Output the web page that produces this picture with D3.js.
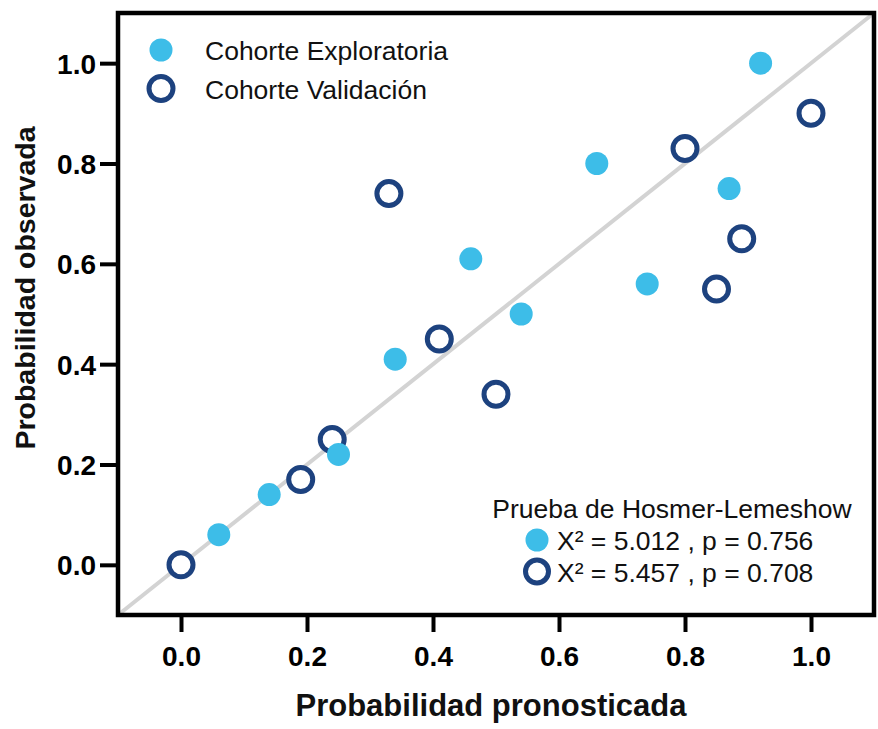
<!DOCTYPE html>
<html>
<head>
<meta charset="utf-8">
<script src="https://cdn.jsdelivr.net/npm/d3@7/dist/d3.min.js"></script>
<style>
  html, body { margin: 0; padding: 0; background: #ffffff; }
  svg { display: block; font-family: "Liberation Sans", Arial, Helvetica, sans-serif; }
</style>
</head>
<body>
<svg id="chart" width="878" height="729"></svg>
<script>
// Calibration data: predicted vs observed probability per decile group
const exploraPred = [0.06, 0.14, 0.25, 0.34, 0.46, 0.54, 0.66, 0.74, 0.87, 0.92];
const exploraObs  = [0.06, 0.14, 0.22, 0.41, 0.61, 0.50, 0.80, 0.56, 0.75, 1.00];
const validPred   = [0.00, 0.19, 0.24, 0.33, 0.41, 0.50, 0.80, 0.85, 0.89, 1.00];
const validObs    = [0.00, 0.17, 0.25, 0.74, 0.45, 0.34, 0.83, 0.55, 0.65, 0.90];

const tickValues = [0.0, 0.2, 0.4, 0.6, 0.8, 1.0];
const seriesNames = ["Cohorte Exploratoria", "Cohorte Validación"];
const hlTitle = "Prueba de Hosmer-Lemeshow";
const hlStats = ["X² = 5.012 , p = 0.756", "X² = 5.457 , p = 0.708"];

const colFill = "#3dbde8";
const colNavy = "#1d427f";

const svg = d3.select("#chart");
const plotL = 118, plotR = 874, plotT = 13, plotB = 615;

const x = d3.scaleLinear().domain([-0.1, 1.1]).range([plotL, plotR]);
const y = d3.scaleLinear().domain([-0.1, 1.1]).range([plotB, plotT]);

// Identity reference line
svg.append("line")
  .attr("x1", x(-0.1)).attr("y1", y(-0.1))
  .attr("x2", x(1.1)).attr("y2", y(1.1))
  .attr("stroke", "#d3d3d3").attr("stroke-width", 4);

// Axes
const xAxis = svg.append("g")
  .attr("transform", `translate(0,${plotB})`)
  .call(d3.axisBottom(x).tickValues(tickValues).tickFormat(d3.format(".1f")).tickSize(17).tickPadding(14));
const yAxis = svg.append("g")
  .attr("transform", `translate(${plotL},0)`)
  .call(d3.axisLeft(y).tickValues(tickValues).tickFormat(d3.format(".1f")).tickSize(18).tickPadding(4));

[xAxis, yAxis].forEach(g => {
  g.select(".domain").remove();
  g.selectAll(".tick line").attr("stroke", "#000").attr("stroke-width", 4);
  g.selectAll(".tick text")
    .attr("fill", "#000")
    .style("font-size", "28px")
    .style("font-weight", "bold")
    .style("font-family", "'Liberation Sans', Arial, sans-serif");
});
yAxis.selectAll(".tick text").attr("dy", "0.36em");

// Plot frame
svg.append("rect")
  .attr("x", plotL).attr("y", plotT)
  .attr("width", plotR - plotL).attr("height", plotB - plotT)
  .attr("fill", "none").attr("stroke", "#000").attr("stroke-width", 4.5);

// Validation cohort: open circles
const validData = validPred.map((p, i) => ({ p, o: validObs[i] }));
svg.append("g").selectAll("circle").data(validData).join("circle")
  .attr("cx", d => x(d.p)).attr("cy", d => y(d.o)).attr("r", 12)
  .attr("fill", "#fff").attr("stroke", colNavy).attr("stroke-width", 5);

// Exploratory cohort: filled circles
const exploraData = exploraPred.map((p, i) => ({ p, o: exploraObs[i] }));
svg.append("g").selectAll("circle").data(exploraData).join("circle")
  .attr("cx", d => x(d.p)).attr("cy", d => y(d.o)).attr("r", 11.5)
  .attr("fill", colFill);

// Legend
const legend = svg.append("g");
seriesNames.forEach((name, i) => {
  const cy = 50 + i * 38.5;
  if (i === 0) {
    legend.append("circle").attr("cx", 161).attr("cy", cy).attr("r", 11.5).attr("fill", colFill);
  } else {
    legend.append("circle").attr("cx", 161).attr("cy", cy).attr("r", 12)
      .attr("fill", "#fff").attr("stroke", colNavy).attr("stroke-width", 5);
  }
  legend.append("text").attr("x", 205).attr("y", cy + 1).attr("dy", "0.35em")
    .style("font-size", "26.5px").attr("fill", "#111").text(name);
});

// Hosmer-Lemeshow annotation
const hl = svg.append("g");
hl.append("text").attr("x", 672).attr("y", 509).attr("dy", "0.35em")
  .attr("text-anchor", "middle").style("font-size", "26.5px").attr("fill", "#111").text(hlTitle);
hlStats.forEach((s, i) => {
  const cy = 540 + i * 31.5;
  if (i === 0) {
    hl.append("circle").attr("cx", 537).attr("cy", cy).attr("r", 11.5).attr("fill", colFill);
  } else {
    hl.append("circle").attr("cx", 537).attr("cy", cy).attr("r", 11.5)
      .attr("fill", "#fff").attr("stroke", colNavy).attr("stroke-width", 5);
  }
  hl.append("text").attr("x", 557).attr("y", cy + 1).attr("dy", "0.35em")
    .style("font-size", "26.5px").attr("fill", "#111").text(s);
});

// Axis titles
svg.append("text").attr("x", 491).attr("y", 716)
  .attr("text-anchor", "middle").style("font-size", "31px").style("font-weight", "bold")
  .attr("fill", "#111").text("Probabilidad pronosticada");
svg.append("text")
  .attr("transform", "translate(35,288) rotate(-90)")
  .attr("text-anchor", "middle").style("font-size", "28.5px").style("font-weight", "bold")
  .attr("fill", "#111").text("Probabilidad observada");
</script>
</body>
</html>
